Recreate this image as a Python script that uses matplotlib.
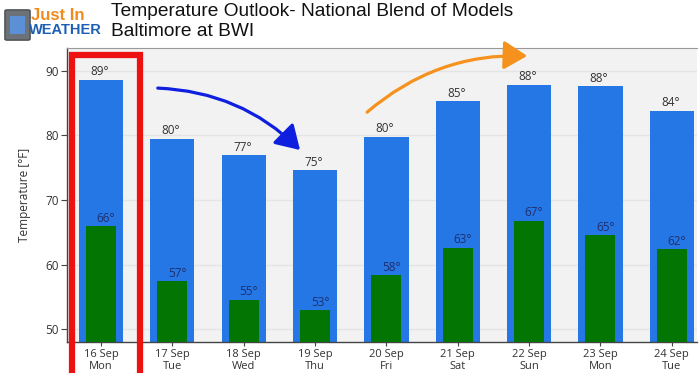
import matplotlib
matplotlib.use("Agg")
import matplotlib.pyplot as plt
from matplotlib.patches import FancyArrowPatch, Rectangle, FancyBboxPatch

days = ["16 Sep\nMon", "17 Sep\nTue", "18 Sep\nWed", "19 Sep\nThu", "20 Sep\nFri",
        "21 Sep\nSat", "22 Sep\nSun", "23 Sep\nMon", "24 Sep\nTue"]
highs = [88.6, 79.5, 76.9, 74.6, 79.8, 85.3, 87.8, 87.6, 83.8]
lows = [65.9, 57.4, 54.6, 53.0, 58.4, 62.6, 66.8, 64.6, 62.4]
high_labels = ["89°", "80°", "77°", "75°", "80°", "85°", "88°", "88°", "84°"]
low_labels = ["66°", "57°", "55°", "53°", "58°", "63°", "67°", "65°", "62°"]
yticks = [50, 60, 70, 80, 90]

W, H = 700, 373
fig = plt.figure(figsize=(7, 3.73), dpi=100)
fig.patch.set_facecolor("white")
plt.rcParams['font.family'] = ['Open Sans', 'DejaVu Sans']

ax = fig.add_axes([67 / W, 31 / H, 630 / W, 294 / H])
ax.set_facecolor("#f3f2f2")
x = list(range(len(days)))
ax.bar(x, highs, width=0.62, color="#2577e6", zorder=2)
ax.bar(x, lows, width=0.42, color="#037503", zorder=3)

for xi, h, l, hl, ll in zip(x, highs, lows, high_labels, low_labels):
    ax.annotate(hl, (xi - 0.02, h), xytext=(0, 1), textcoords="offset points",
                ha="center", va="bottom", fontsize=8.5, color="#333333", zorder=5)
    ax.annotate(ll, (xi + 0.07, l), xytext=(0, 1), textcoords="offset points",
                ha="center", va="bottom", fontsize=8.5, color="#1f2f6e", zorder=5)

ax.set_xlim(-0.4765, 8.353)
ax.set_ylim(48.04, 93.5)
ax.set_xticks(x)
ax.set_xticklabels(days, fontsize=8, color="#333333", linespacing=1.1)
ax.set_yticks(yticks)
ax.set_yticklabels([str(v) for v in yticks], fontsize=8.5, color="#333333")
ax.set_ylabel("Temperature [°F]", fontsize=8.5, color="#333333", labelpad=10)
ax.yaxis.grid(True, color="#e4e4e4", linewidth=1, zorder=0)
ax.tick_params(axis="y", length=4, color="#444444", pad=2)
ax.tick_params(axis="x", length=3, color="#444444", pad=2)
for s in ["left", "bottom"]:
    ax.spines[s].set_color("#444444")
    ax.spines[s].set_linewidth(1)
ax.spines["top"].set_color("#999999")
ax.spines["right"].set_visible(False)

# Title
fig.text(111 / W, 1 - 12 / H, "Temperature Outlook- National Blend of Models",
         fontsize=13.8, family="Liberation Sans", color="#111111", va="center", ha="left")
fig.text(111 / W, 1 - 31 / H, "Baltimore at BWI",
         fontsize=13.8, family="Liberation Sans", color="#111111", va="center", ha="left")

# Logo
phone = FancyBboxPatch((7 / W, 1 - 39 / H), 21 / W, 28 / H,
                       boxstyle="round,pad=0.003", transform=fig.transFigure,
                       facecolor="#6d7278", edgecolor="#4a4e52", linewidth=1)
fig.patches.append(phone)
screen = Rectangle((10 / W, 1 - 34 / H), 15 / W, 18 / H, transform=fig.transFigure,
                   facecolor="#5b8fd6", edgecolor="none")
fig.patches.append(screen)
fig.text(31 / W, 1 - 15 / H, "Just In", fontsize=12, fontweight="bold",
         family="Liberation Sans", color="#f08a1c", va="center", ha="left")
fig.text(29 / W, 1 - 30 / H, "WEATHER", fontsize=10.5, fontweight="bold",
         family="Liberation Sans", color="#1d5fb5", va="center", ha="left")

# Red highlight rectangle
rect = Rectangle((72 / W, -5 / H), 68 / W, (373 - 55 + 5) / H, transform=fig.transFigure,
                 fill=False, edgecolor="#ee1111", linewidth=4.5, zorder=10)
fig.patches.append(rect)

# Arrows (figure pixel coordinates)
def px(xp, yp):
    return (xp / W, 1 - yp / H)

a1 = FancyArrowPatch(px(155, 88), px(302, 152), transform=fig.transFigure,
                     connectionstyle="arc3,rad=-0.2", arrowstyle="-|>,head_length=9,head_width=5.5",
                     color="#0f1fe0", linewidth=2.3, mutation_scale=1.6, zorder=11)
fig.patches.append(a1)
a2 = FancyArrowPatch(px(365, 114), px(530, 56), transform=fig.transFigure,
                     connectionstyle="arc3,rad=-0.2", arrowstyle="-|>,head_length=9,head_width=5.5",
                     color="#f5921e", linewidth=2.3, mutation_scale=1.6, zorder=11)
fig.patches.append(a2)

fig.savefig("out.png", dpi=100)
